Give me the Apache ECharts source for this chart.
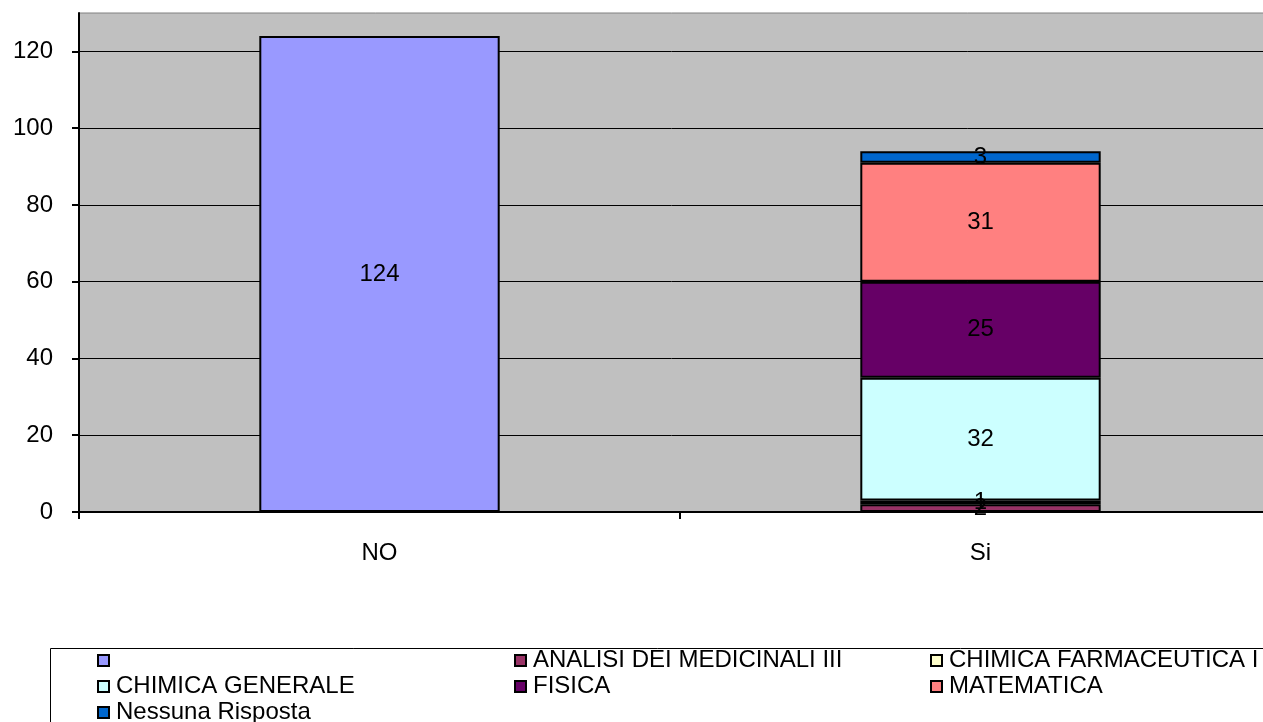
<!DOCTYPE html>
<html lang="it">
<head>
<meta charset="UTF-8">
<title>Risposte</title>
<script src="https://cdn.jsdelivr.net/npm/echarts@6/dist/echarts.min.js"></script>
<style>
  html, body { margin: 0; padding: 0; background: #fff; }
  #chart { width: 1263px; height: 722px; }
</style>
</head>
<body>
<div id="chart"></div>
<script>
  // categories and series data
  const categories = ['NO', 'Si'];
  const seriesNames = [' ', 'ANALISI DEI MEDICINALI III', 'CHIMICA FARMACEUTICA I',
    'CHIMICA GENERALE', 'FISICA', 'MATEMATICA', 'Nessuna Risposta'];
  const noValues = [124, null, null, null, null, null, null];
  const siValues = [null, 2, 1, 32, 25, 31, 3];
  const colors = ['#9999FF', '#993366', '#FFFFCC', '#CCFFFF', '#660066', '#FF8080', '#0066CC'];
  const yTicks = [0, 20, 40, 60, 80, 100, 120];

  const font = '"Liberation Sans", Arial, sans-serif';
  let myChart = echarts.init(document.getElementById('chart'));

  let series = seriesNames.map((name, i) => ({
    name: name,
    type: 'bar',
    stack: 'tot',
    barWidth: '40%',
    data: [noValues[i], siValues[i]],
    itemStyle: { color: colors[i], borderColor: '#000', borderWidth: 2 },
    label: {
      show: true,
      position: 'inside',
      color: '#000',
      fontFamily: font,
      fontSize: 24,
      formatter: p => (p.value == null ? '' : p.value)
    }
  }));

  function legendCol(left, names) {
    return {
      orient: 'vertical',
      left: left,
      top: 648,
      height: 120,
      padding: 0,
      itemWidth: 11,
      itemHeight: 11,
      itemGap: 1,
      icon: 'rect',
      data: names,
      selectedMode: false,
      textStyle: { color: '#000', fontFamily: font, fontSize: 24, lineHeight: 25, padding: [0, 0, 0, 2] }
    };
  }

  let option = {
    animation: false,
    color: colors,
    grid: {
      left: 79, top: 13, width: 1202, height: 499,
      outerBoundsMode: 'none',
      show: true, backgroundColor: '#C0C0C0', borderColor: '#808080', borderWidth: 1
    },
    legend: [
      legendCol(97, [seriesNames[0], seriesNames[3], seriesNames[6]]),
      legendCol(514, [seriesNames[1], seriesNames[4]]),
      legendCol(930, [seriesNames[2], seriesNames[5]])
    ],
    graphic: [{
      type: 'rect',
      shape: { x: 50.5, y: 648.5, width: 1240, height: 100 },
      style: { fill: 'none', stroke: '#000', lineWidth: 1 },
      z: -1
    }],
    xAxis: {
      type: 'category',
      data: categories,
      axisLine: { lineStyle: { color: '#000', width: 2 } },
      axisTick: { show: true, length: 7, interval: 0, lineStyle: { color: '#000', width: 2 } },
      axisLabel: { color: '#000', fontFamily: font, fontSize: 24, margin: 29 }
    },
    yAxis: {
      type: 'value',
      min: 0,
      max: 130,
      interval: 20,
      axisLine: { show: true, lineStyle: { color: '#000', width: 2 } },
      axisTick: { show: true, length: 7, customValues: yTicks, lineStyle: { color: '#000', width: 2 } },
      axisLabel: {
        color: '#000', fontFamily: font, fontSize: 24, margin: 26,
        customValues: yTicks
      },
      splitLine: { show: true, lineStyle: { color: '#000', width: 1 } }
    },
    series: series
  };

  myChart.setOption(option);
</script>
</body>
</html>
